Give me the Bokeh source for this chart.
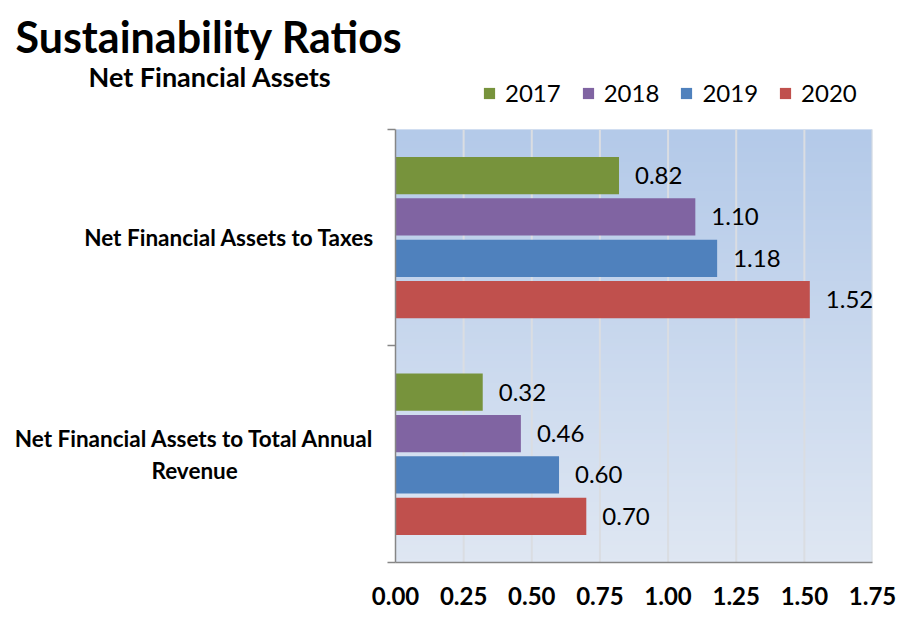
import numpy as np
from bokeh.plotting import figure
from bokeh.models import (ColumnDataSource, Range1d, FixedTicker, LinearAxis,
                          Legend, LegendItem, LabelSet, Title)
from bokeh.core.properties import value
from bokeh.transform import dodge
from bokeh.embed import file_html
from bokeh.resources import INLINE

# ---- data ----
categories = ["Net Financial Assets to Total Annual\nRevenue", "Net Financial Assets to Taxes"]
years = ["2017", "2018", "2019", "2020"]
v2017 = [0.32, 0.82]
v2018 = [0.46, 1.10]
v2019 = [0.60, 1.18]
v2020 = [0.70, 1.52]
colors = ["#77933C", "#8064A2", "#4F81BD", "#C0504D"]
x_ticks = [0.0, 0.25, 0.5, 0.75, 1.0, 1.25, 1.5, 1.75]

FONT = "Lato"
W, H = 906, 617
LEFT, RIGHT, BOTTOM = 395, 872, 562
AREA_TOP = 128      # top of the shaded plot area
FRAME_TOP = 76      # frame reaches higher so the legend sits inside it
XMAX = 1.75
YMAX = float(len(categories))
px_per_y = (BOTTOM - AREA_TOP) / YMAX
YTOP = (BOTTOM - FRAME_TOP) / px_per_y

p = figure(width=W, height=H, output_backend="svg", toolbar_location=None,
           x_range=Range1d(0, XMAX), y_range=Range1d(0, YTOP),
           min_border_left=LEFT, min_border_right=W - RIGHT,
           min_border_top=FRAME_TOP, min_border_bottom=H - BOTTOM,
           x_axis_location=None, y_axis_location=None)
p.outline_line_color = None
p.background_fill_color = "white"
p.border_fill_color = "white"
p.xgrid.grid_line_color = None
p.ygrid.grid_line_color = None

# plot-area vertical gradient
n = 120
t = np.linspace(0, 1, n)[:, None]
bottom_c = np.array([223, 231, 243])
top_c = np.array([180, 202, 233])
rgb = (bottom_c + (top_c - bottom_c) * t).astype(np.uint32)
row = (255 << 24) | (rgb[:, 2] << 16) | (rgb[:, 1] << 8) | rgb[:, 0]
img = np.repeat(row[:, None], 2, axis=1).astype(np.uint32)
p.image_rgba(image=[img], x=0, y=0, dw=XMAX, dh=YMAX, level="image")

# vertical grid lines limited to the shaded area
p.segment(x0=x_ticks[1:], x1=x_ticks[1:], y0=0, y1=YMAX, line_color="#DADDE2", line_width=2)

# value axis
xaxis = LinearAxis(ticker=FixedTicker(ticks=x_ticks))
xaxis.major_label_overrides = {t_: f"{t_:.2f}" for t_ in x_ticks}
xaxis.major_tick_out = 0
xaxis.major_tick_in = 0
xaxis.minor_tick_out = 0
xaxis.minor_tick_in = 0
xaxis.axis_line_color = "#868686"
xaxis.axis_line_width = 1.5
xaxis.major_label_text_font = FONT
xaxis.major_label_text_font_style = "bold"
xaxis.major_label_text_font_size = "24px"
xaxis.major_label_text_color = "black"
xaxis.major_label_standoff = 24
p.add_layout(xaxis, "below")


def category_label(text):
    # centre the shorter lines of a wrapped label under the longest one
    lines = text.split("\n")
    if len(lines) == 1:
        return text
    longest = max(len(l) for l in lines)
    out = [lines[0]]
    for l in lines[1:]:
        pad = int(round((longest - len(l)) * 0.86))
        out.append(l + "\u00a0" * pad)
    return "\n".join(out)


# category axis: labels at group centres, tick marks at group boundaries
centers = [i + 0.5 for i in range(len(categories))]
yaxis = LinearAxis(ticker=FixedTicker(ticks=centers,
                                      minor_ticks=[float(i) for i in range(len(categories) + 1)]),
                   bounds=(0, YMAX))
yaxis.major_label_overrides = {c: category_label(lab) for c, lab in zip(centers, categories)}
yaxis.major_tick_out = 0
yaxis.major_tick_in = 0
yaxis.minor_tick_out = 8
yaxis.minor_tick_in = 0
yaxis.minor_tick_line_color = "#868686"
yaxis.minor_tick_line_width = 1.5
yaxis.axis_line_color = "#868686"
yaxis.axis_line_width = 1.5
yaxis.major_label_text_font = FONT
yaxis.major_label_text_font_style = "bold"
yaxis.major_label_text_font_size = "22.5px"
yaxis.major_label_text_color = "black"
yaxis.major_label_standoff = 13
p.add_layout(yaxis, "left")

# bars and value labels
src = ColumnDataSource(dict(center=centers, v2017=v2017, v2018=v2018, v2019=v2019, v2020=v2020,
                            l2017=[f"{v:.2f}" for v in v2017], l2018=[f"{v:.2f}" for v in v2018],
                            l2019=[f"{v:.2f}" for v in v2019], l2020=[f"{v:.2f}" for v in v2020]))
pitch = 0.191
bar_h = 0.172
items = []
for i, (yr, col) in enumerate(zip(years, colors)):
    off = (1.5 - i) * pitch
    r = p.hbar(y=dodge("center", off, range=p.y_range), right="v" + yr, left=0, height=bar_h,
               source=src, fill_color=col, line_color=None)
    items.append(LegendItem(label=yr, renderers=[r]))
    p.add_layout(LabelSet(x="v" + yr, y=dodge("center", off, range=p.y_range), text="l" + yr,
                          source=src, x_offset=16, text_baseline="middle", text_align="left",
                          text_font=value(FONT), text_font_size=value("24px"),
                          text_color="black"))

# legend in the strip above the shaded area
legend = Legend(items=items, orientation="horizontal", location=(87, BOTTOM - 107),
                glyph_width=14, glyph_height=14, label_standoff=9, spacing=20,
                padding=0, margin=0, border_line_color=None, background_fill_alpha=0,
                label_text_font=FONT, label_text_font_size="24px", label_text_color="black")
p.add_layout(legend, "center")

# headings
subtitle = Title(text="Net Financial Assets", align="left", offset=88 - LEFT, standoff=-31,
                 text_font=FONT, text_font_style="bold", text_font_size="27px",
                 text_color="black")
p.title = Title(text="Sustainability Ratios", align="left", offset=15 - LEFT, standoff=20,
                vertical_align="top",
                text_font=FONT, text_font_style="bold", text_font_size="43px",
                text_color="black")
p.add_layout(subtitle, "above")

open("out.html", "w").write(file_html(p, INLINE))
